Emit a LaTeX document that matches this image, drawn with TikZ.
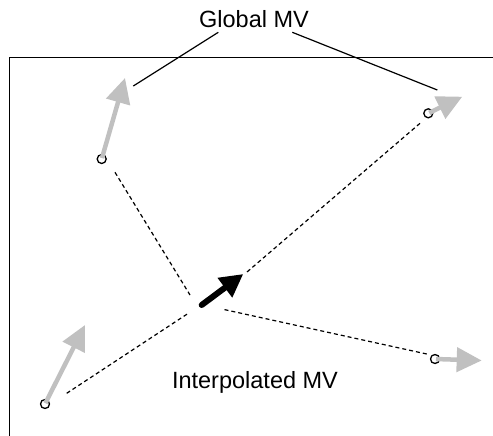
\documentclass[tikz,border=0pt]{standalone}
\usepackage{fontspec}
\setmainfont{Liberation Sans}
\usetikzlibrary{arrows.meta}
\definecolor{mvgrey}{RGB}{192,192,192}
\tikzset{
  lbl/.style={font=\fontsize{23.5}{28}\selectfont, anchor=base, inner sep=0pt},
  pt/.style={circle, draw=black, fill=white, line width=1.3pt, minimum size=9pt, inner sep=0pt},
  globalmv/.style={draw=mvgrey, line width=4.5pt, -{Triangle[length=25pt,width=24pt]}, shorten <=1pt},
  intmv/.style={draw=black, line width=6pt, line cap=round, -{Triangle[length=23pt,width=23pt]}},
  dashedline/.style={draw=black, line width=1.2pt, dash pattern=on 4pt off 3pt},
  leader/.style={draw=black, line width=1.2pt},
  framestyle/.style={draw=black, line width=1pt}
}
\begin{document}
\begin{tikzpicture}[x=1pt,y=-1pt]
\useasboundingbox (0,0) rectangle (493,436);
% frame
\coordinate (fbl) at (9,436);
\coordinate (ftl) at (9,58);
\coordinate (ftr) at (493,58);
\draw[framestyle] (fbl) -- (ftl) -- (ftr);
% labels
\node[lbl] (title) at (254,27.3) {Global MV};
\node[lbl] (interp) at (255,388) {Interpolated MV};
% leader lines
\coordinate (g1) at (218.3,32.3);
\coordinate (g1e) at (133.3,86);
\coordinate (g2) at (292.3,32.3);
\coordinate (g2e) at (437.3,90);
\draw[leader] (g1) -- (g1e);
\draw[leader] (g2) -- (g2e);
% dashed lines
\coordinate (dtl1) at (115,172.3);
\coordinate (dtl2) at (190,295);
\coordinate (dbl1) at (66.7,393.3);
\coordinate (dbl2) at (188.3,313.3);
\coordinate (dr1) at (426.7,354);
\coordinate (dr2) at (221.7,309);
\coordinate (dtr1) at (420,123.3);
\coordinate (dtr2) at (247,272);
\draw[dashedline] (dtl1) -- (dtl2);
\draw[dashedline] (dbl1) -- (dbl2);
\draw[dashedline] (dr1) -- (dr2);
\draw[dashedline] (dtr1) -- (dtr2);
% points
\node[pt] (ptl) at (101.7,159) {};
\node[pt] (ptr) at (428.3,113.3) {};
\node[pt] (pbl) at (45,404) {};
\node[pt] (pr) at (435,359) {};
% global MVs
\coordinate (ttl) at (125,78);
\coordinate (ttr) at (462.3,96.7);
\coordinate (tbl) at (85,325);
\coordinate (tr) at (481.7,360.5);
\draw[globalmv] (ptl.center) -- (ttl);
\draw[globalmv] (ptr.center) -- (ttr);
\draw[globalmv] (pbl.center) -- (tbl);
\draw[globalmv] (pr.center) -- (tr);
% interpolated MV
\coordinate (is) at (201.7,305);
\coordinate (it) at (243.3,274);
\draw[intmv] (is) -- (it);
\end{tikzpicture}
\end{document}
